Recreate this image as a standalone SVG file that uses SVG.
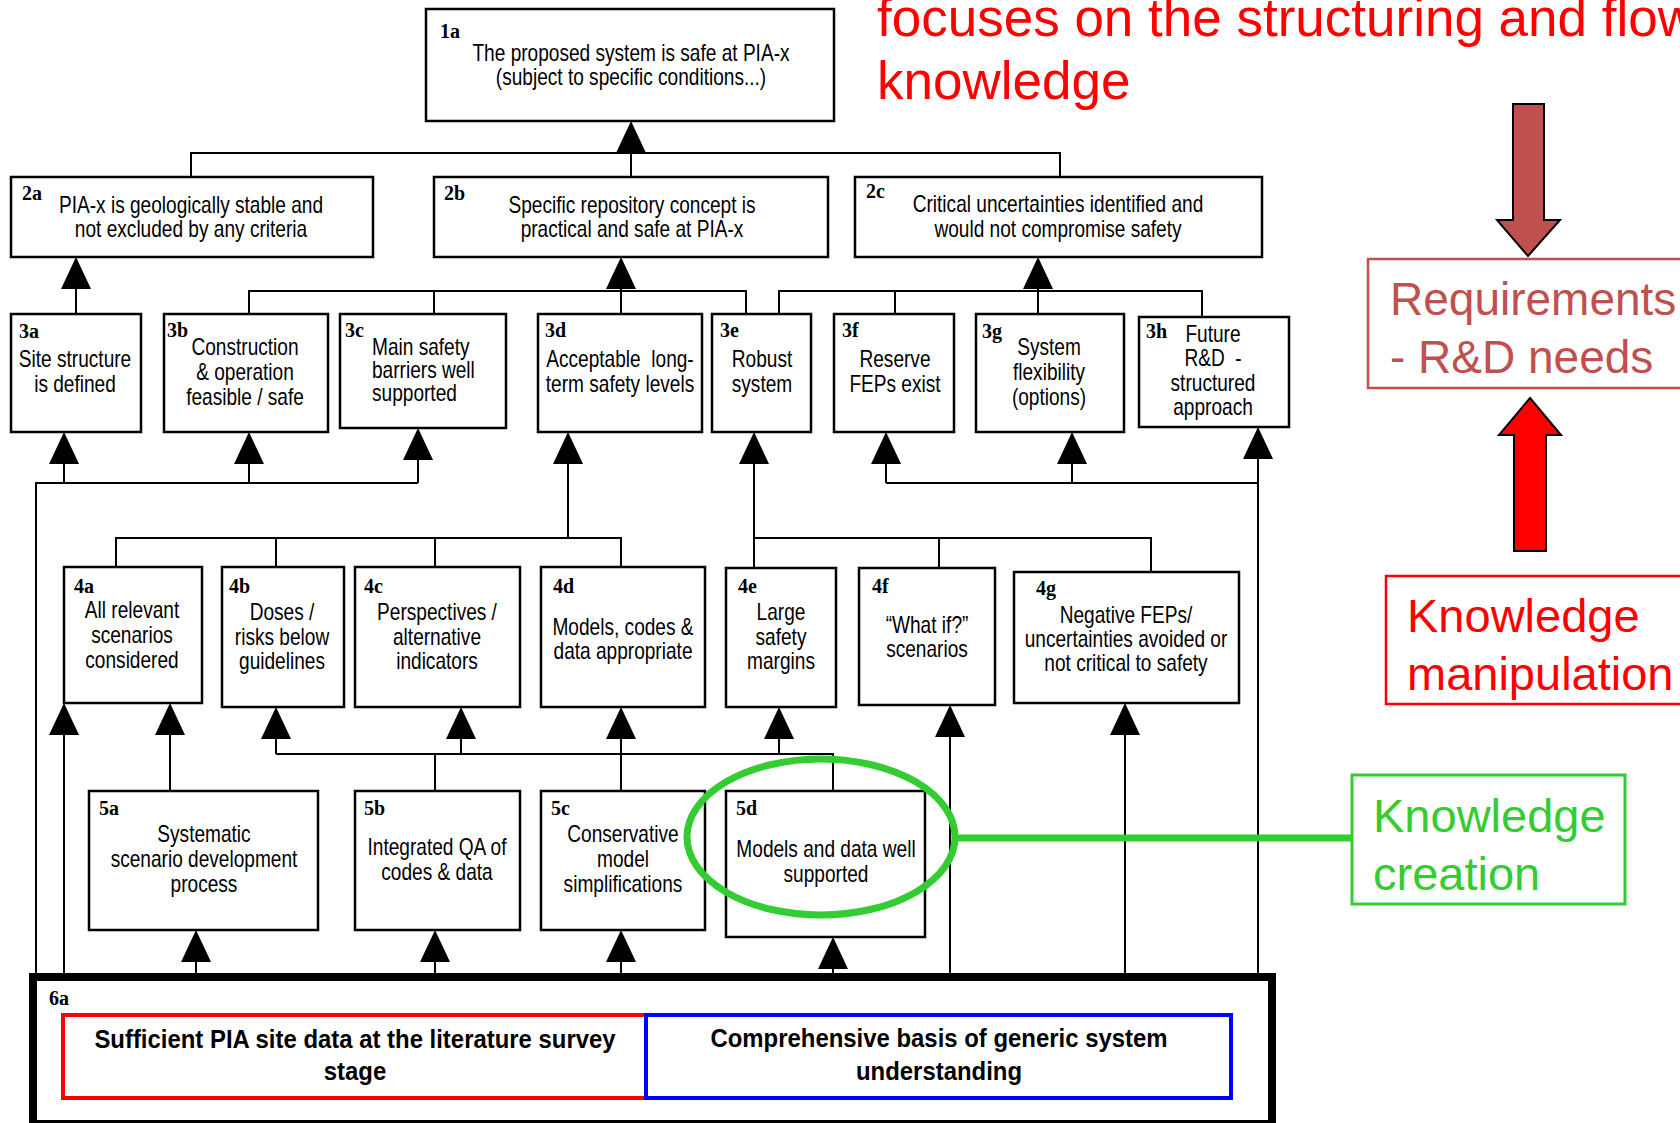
<svg xmlns="http://www.w3.org/2000/svg" width="1680" height="1123" viewBox="0 0 1680 1123">
<style>
.box{fill:#fff;stroke:#000;stroke-width:2.5}
.lb{font-family:"Liberation Serif","Times New Roman",serif;font-weight:bold;font-size:20px;fill:#000}
.t{font-family:"Liberation Sans",Arial,sans-serif;font-size:23px;fill:#000;text-anchor:middle}
.tl{text-anchor:start}
.pre{white-space:pre}
.bt{font-family:"Liberation Sans",Arial,sans-serif;font-size:26px;font-weight:bold;fill:#000;text-anchor:middle}
.con{fill:none;stroke:#000;stroke-width:2}
.arr{fill:none;stroke:#000;stroke-width:2;marker-end:url(#ah)}
.big{font-family:"Liberation Sans",Arial,sans-serif}
</style>
<defs>
<marker id="ah" markerUnits="userSpaceOnUse" markerWidth="32" markerHeight="30" viewBox="0 0 32 30" refX="30" refY="15" orient="auto">
<path d="M0,0 L32,15 L0,30 Z" fill="#000"/>
</marker>
</defs>
<rect x="0" y="0" width="1680" height="1123" fill="#fff"/>

<g id="title">
<text class="big" x="877" y="36" font-size="53" fill="#ff0000">focuses on the structuring and flow</text>
<text class="big" x="877" y="99" font-size="53" fill="#ff0000">knowledge</text>
</g>

<g id="connectors">
<path class="con" d="M191,177 V153 H1060 V177 M631,177 V153"/>
<path class="arr" d="M631,153 V123"/>
<path class="arr" d="M76,314 V259"/>
<path class="con" d="M249,314 V291 H746 V314 M434,291 V314 M621,314 V291"/>
<path class="arr" d="M621,291 V259"/>
<path class="con" d="M779,314 V291 H1202 V317 M895,291 V314 M1038,291 V314"/>
<path class="arr" d="M1038,291 V259"/>
<path class="con" d="M36,975 V483 H418"/>
<path class="arr" d="M64,483 V434"/>
<path class="arr" d="M249,483 V434"/>
<path class="arr" d="M418,483 V430"/>
<path class="con" d="M116,567 V538 H621 V567 M276,538 V567 M435,538 V567"/>
<path class="arr" d="M568,538 V434"/>
<path class="con" d="M754,568 V538 H1151 V572 M939,538 V568"/>
<path class="arr" d="M754,538 V434"/>
<path class="con" d="M1258,975 V483 H886"/>
<path class="arr" d="M886,483 V434"/>
<path class="arr" d="M1072,483 V434"/>
<path class="arr" d="M1258,483 V429"/>
<path class="arr" d="M64,975 V705"/>
<path class="arr" d="M170,791 V705"/>
<path class="con" d="M276,754 H833 V791 M435,754 V791 M621,754 V791"/>
<path class="arr" d="M276,754 V709"/>
<path class="arr" d="M461,754 V709"/>
<path class="arr" d="M621,754 V709"/>
<path class="arr" d="M779,754 V709"/>
<path class="arr" d="M950,975 V707"/>
<path class="arr" d="M1125,975 V705"/>
<path class="arr" d="M196,975 V932"/>
<path class="arr" d="M435,975 V932"/>
<path class="arr" d="M621,975 V932"/>
<path class="arr" d="M833,975 V939"/>
</g>

<g id="n1a">
<rect class="box" x="426" y="9" width="408" height="112"/>
<text class="lb" x="440" y="38">1a</text>
<text class="t" transform="translate(631,0) scale(0.83,1)"><tspan x="0" y="61">The proposed system is safe at PIA-x</tspan><tspan x="0" y="85">(subject to specific conditions...)</tspan></text>
</g>

<g id="n2a">
<rect class="box" x="11" y="177" width="362" height="80"/>
<text class="lb" x="22" y="200">2a</text>
<text class="t" transform="translate(191,0) scale(0.83,1)"><tspan x="0" y="213">PIA-x is geologically stable and</tspan><tspan x="0" y="237">not excluded by any criteria</tspan></text>
</g>
<g id="n2b">
<rect class="box" x="434" y="177" width="394" height="80"/>
<text class="lb" x="444" y="200">2b</text>
<text class="t" transform="translate(632,0) scale(0.83,1)"><tspan x="0" y="213">Specific repository concept is</tspan><tspan x="0" y="237">practical and safe at PIA-x</tspan></text>
</g>
<g id="n2c">
<rect class="box" x="855" y="177" width="407" height="80"/>
<text class="lb" x="866" y="198">2c</text>
<text class="t" transform="translate(1058,0) scale(0.83,1)"><tspan x="0" y="212">Critical uncertainties identified and</tspan><tspan x="0" y="237">would not compromise safety</tspan></text>
</g>

<g id="n3a">
<rect class="box" x="11" y="314" width="130" height="118"/>
<text class="lb" x="19" y="338">3a</text>
<text class="t" transform="translate(75,0) scale(0.83,1)"><tspan x="0" y="367">Site structure</tspan><tspan x="0" y="392">is defined</tspan></text>
</g>
<g id="n3b">
<rect class="box" x="164" y="314" width="164" height="118"/>
<text class="lb" x="167" y="337">3b</text>
<text class="t" transform="translate(245,0) scale(0.83,1)"><tspan x="0" y="355">Construction</tspan><tspan x="0" y="380">&amp; operation</tspan><tspan x="0" y="405">feasible / safe</tspan></text>
</g>
<g id="n3c">
<rect class="box" x="340" y="314" width="166" height="114"/>
<text class="lb" x="345" y="337">3c</text>
<text class="t tl" transform="translate(372,0) scale(0.83,1)"><tspan x="0" y="355">Main safety</tspan><tspan x="0" y="378">barriers well</tspan><tspan x="0" y="401">supported</tspan></text>
</g>
<g id="n3d">
<rect class="box" x="538" y="314" width="164" height="118"/>
<text class="lb" x="545" y="337">3d</text>
<text class="t" transform="translate(620,0) scale(0.83,1)"><tspan class="pre" x="0" y="367">Acceptable  long-</tspan><tspan x="0" y="392">term safety levels</tspan></text>
</g>
<g id="n3e">
<rect class="box" x="712" y="314" width="99" height="118"/>
<text class="lb" x="720" y="337">3e</text>
<text class="t" transform="translate(762,0) scale(0.83,1)"><tspan x="0" y="367">Robust</tspan><tspan x="0" y="392">system</tspan></text>
</g>
<g id="n3f">
<rect class="box" x="834" y="314" width="120" height="118"/>
<text class="lb" x="842" y="337">3f</text>
<text class="t" transform="translate(895,0) scale(0.83,1)"><tspan x="0" y="367">Reserve</tspan><tspan x="0" y="392">FEPs exist</tspan></text>
</g>
<g id="n3g">
<rect class="box" x="976" y="314" width="148" height="118"/>
<text class="lb" x="982" y="338">3g</text>
<text class="t" transform="translate(1049,0) scale(0.83,1)"><tspan x="0" y="355">System</tspan><tspan x="0" y="380">flexibility</tspan><tspan x="0" y="405">(options)</tspan></text>
</g>
<g id="n3h">
<rect class="box" x="1139" y="317" width="150" height="110"/>
<text class="lb" x="1146" y="338">3h</text>
<text class="t" transform="translate(1213,0) scale(0.83,1)"><tspan x="0" y="342">Future</tspan><tspan class="pre" x="0" y="366">R&amp;D  -</tspan><tspan x="0" y="391">structured</tspan><tspan x="0" y="415">approach</tspan></text>
</g>

<g id="n4a">
<rect class="box" x="64" y="567" width="138" height="136"/>
<text class="lb" x="74" y="593">4a</text>
<text class="t" transform="translate(132,0) scale(0.83,1)"><tspan x="0" y="618">All relevant</tspan><tspan x="0" y="643">scenarios</tspan><tspan x="0" y="668">considered</tspan></text>
</g>
<g id="n4b">
<rect class="box" x="222" y="567" width="122" height="140"/>
<text class="lb" x="229" y="593">4b</text>
<text class="t" transform="translate(282,0) scale(0.83,1)"><tspan x="0" y="620">Doses /</tspan><tspan x="0" y="645">risks below</tspan><tspan x="0" y="669">guidelines</tspan></text>
</g>
<g id="n4c">
<rect class="box" x="355" y="567" width="165" height="140"/>
<text class="lb" x="364" y="593">4c</text>
<text class="t" transform="translate(437,0) scale(0.83,1)"><tspan x="0" y="620">Perspectives /</tspan><tspan x="0" y="645">alternative</tspan><tspan x="0" y="669">indicators</tspan></text>
</g>
<g id="n4d">
<rect class="box" x="541" y="567" width="164" height="140"/>
<text class="lb" x="553" y="593">4d</text>
<text class="t" transform="translate(623,0) scale(0.83,1)"><tspan x="0" y="635">Models, codes &amp;</tspan><tspan x="0" y="659">data appropriate</tspan></text>
</g>
<g id="n4e">
<rect class="box" x="726" y="568" width="110" height="139"/>
<text class="lb" x="738" y="593">4e</text>
<text class="t" transform="translate(781,0) scale(0.83,1)"><tspan x="0" y="620">Large</tspan><tspan x="0" y="645">safety</tspan><tspan x="0" y="669">margins</tspan></text>
</g>
<g id="n4f">
<rect class="box" x="859" y="568" width="136" height="137"/>
<text class="lb" x="872" y="593">4f</text>
<text class="t" transform="translate(927,0) scale(0.83,1)"><tspan x="0" y="633">“What if?”</tspan><tspan x="0" y="657">scenarios</tspan></text>
</g>
<g id="n4g">
<rect class="box" x="1014" y="572" width="225" height="131"/>
<text class="lb" x="1036" y="595">4g</text>
<text class="t" transform="translate(1126,0) scale(0.83,1)"><tspan x="0" y="623">Negative FEPs/</tspan><tspan x="0" y="647">uncertainties avoided or</tspan><tspan x="0" y="671">not critical to safety</tspan></text>
</g>

<g id="n5a">
<rect class="box" x="89" y="791" width="229" height="139"/>
<text class="lb" x="99" y="815">5a</text>
<text class="t" transform="translate(204,0) scale(0.83,1)"><tspan x="0" y="842">Systematic</tspan><tspan x="0" y="867">scenario development</tspan><tspan x="0" y="892">process</tspan></text>
</g>
<g id="n5b">
<rect class="box" x="355" y="791" width="165" height="139"/>
<text class="lb" x="364" y="815">5b</text>
<text class="t" transform="translate(437,0) scale(0.83,1)"><tspan x="0" y="855">Integrated QA of</tspan><tspan x="0" y="880">codes &amp; data</tspan></text>
</g>
<g id="n5c">
<rect class="box" x="541" y="791" width="164" height="139"/>
<text class="lb" x="551" y="815">5c</text>
<text class="t" transform="translate(623,0) scale(0.83,1)"><tspan x="0" y="842">Conservative</tspan><tspan x="0" y="867">model</tspan><tspan x="0" y="892">simplifications</tspan></text>
</g>
<g id="n5d">
<rect class="box" x="726" y="791" width="199" height="146"/>
<text class="lb" x="736" y="815">5d</text>
<text class="t" transform="translate(826,0) scale(0.83,1)"><tspan x="0" y="857">Models and data well</tspan><tspan x="0" y="882">supported</tspan></text>
</g>

<g id="n6a">
<rect x="33" y="977" width="1239" height="147" fill="#fff" stroke="#000" stroke-width="8"/>
<text class="lb" x="49" y="1005">6a</text>
<rect x="63" y="1015" width="583" height="83" fill="none" stroke="#ff0000" stroke-width="4"/>
<rect x="646" y="1015" width="585" height="83" fill="none" stroke="#0000ff" stroke-width="4"/>
<text class="bt" transform="translate(355,0) scale(0.92,1)"><tspan x="0" y="1048">Sufficient PIA site data at the literature survey</tspan><tspan x="0" y="1080">stage</tspan></text>
<text class="bt" transform="translate(939,0) scale(0.92,1)"><tspan x="0" y="1047">Comprehensive basis of generic system</tspan><tspan x="0" y="1080">understanding</tspan></text>
</g>

<g id="creation">
<ellipse cx="821" cy="837" rx="134" ry="78" fill="none" stroke="#33cc33" stroke-width="7"/>
<path d="M954,838 H1352" stroke="#33cc33" stroke-width="7" fill="none"/>
<rect x="1352" y="775" width="273" height="129" fill="none" stroke="#33cc33" stroke-width="3"/>
<text class="big" font-size="47" fill="#33cc33"><tspan x="1373" y="832">Knowledge</tspan><tspan x="1373" y="890">creation</tspan></text>
</g>

<g id="requirements">
<polygon points="1513,104 1544,104 1544,220 1560,220 1528,256 1497,220 1513,220" fill="#c0504d" stroke="#000" stroke-width="2"/>
<rect x="1368" y="259" width="330" height="129" fill="none" stroke="#c0504d" stroke-width="2.5"/>
<text class="big" font-size="46" fill="#c0504d"><tspan x="1390" y="315">Requirements</tspan><tspan x="1390" y="373">- R&amp;D needs</tspan></text>
</g>

<g id="manipulation">
<polygon points="1530,398 1561,435 1546,435 1546,551 1514,551 1514,435 1499,435" fill="#ff0000" stroke="#000" stroke-width="2"/>
<rect x="1386" y="576" width="320" height="128" fill="none" stroke="#ff0000" stroke-width="2.5"/>
<text class="big" font-size="47" fill="#ff0000"><tspan x="1407" y="632">Knowledge</tspan><tspan x="1407" y="690">manipulation</tspan></text>
</g>
</svg>
